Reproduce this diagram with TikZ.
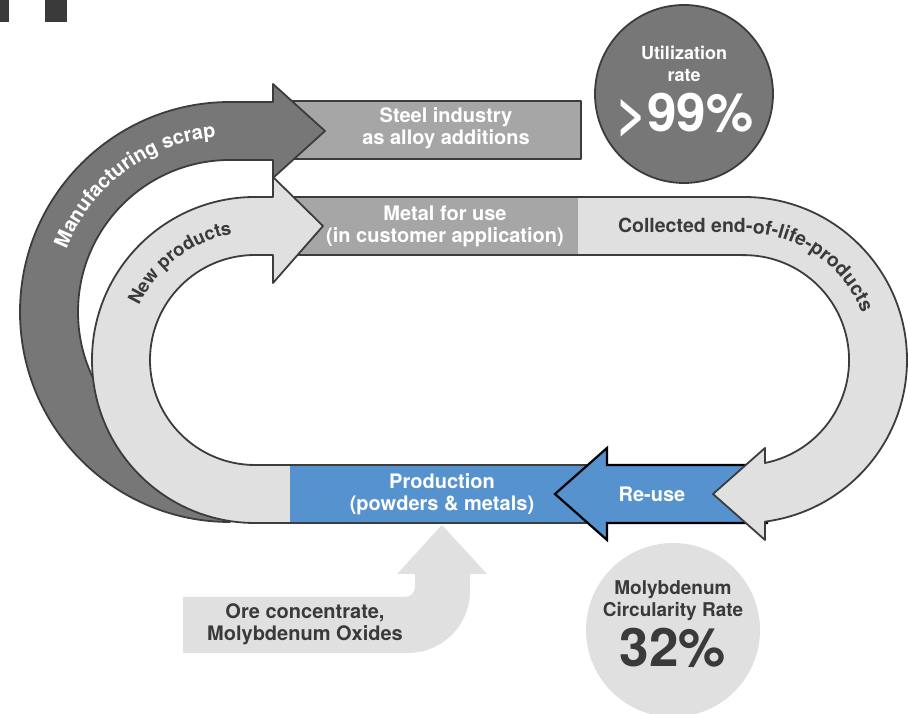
\documentclass[tikz,border=0pt]{standalone}
\usepackage{fontspec}
\setmainfont{TeX Gyre Heros}
\usetikzlibrary{decorations.text}

\definecolor{edge}{HTML}{3C3C3C}
\definecolor{ink}{HTML}{3A3A3A}
\definecolor{scrapgray}{HTML}{777777}
\definecolor{boxgray}{HTML}{A6A6A6}
\definecolor{loopgray}{HTML}{E0E0E0}
\definecolor{moblue}{HTML}{5592CE}

\newcommand{\bandfont}{\bfseries\fontsize{19.5}{20}\selectfont}
\newcommand{\scrapfont}{\bfseries\fontsize{20}{20}\selectfont}
\newcommand{\newprodfont}{\bfseries\fontsize{18.5}{20}\selectfont}

\tikzset{
  outline/.style={draw=edge, line width=1.8pt, line join=round},
  boxlbl/.style={font=\bfseries\fontsize{20}{22}\selectfont, align=center, text=white, inner sep=0pt},
  inklbl/.style={font=\bfseries\fontsize{20}{22}\selectfont, align=center, text=ink, inner sep=0pt},
}

\begin{document}
\begin{tikzpicture}[x=1pt,y=1pt]
        \useasboundingbox (0,0) rectangle (908,714);

        % Corner marks
        \fill[ink] (0,692) rectangle (9,714);
        \fill[ink] (45,692) rectangle (67,714);

        % Steel industry box
        \draw[outline, fill=boxgray] (280,555) rectangle (581,613);

        % Manufacturing scrap
        \draw[outline, fill=scrapgray] (230,192) arc[start angle=270, end angle=90, radius=210]
          -- (273,612) -- (273,630) -- (325,583) -- (273,536) -- (273,554) -- (230,554)
          arc[start angle=90, end angle=270, radius=152] -- cycle;

        % Metal for use
        \fill[boxgray] (285,459) rectangle (578,517);
        \draw[outline] (285,517) -- (578,517) (285,459) -- (578,459);

        % New products
        \draw[outline, fill=loopgray] (296,191) -- (255,191) arc[start angle=270, end angle=90, radius=163]
          -- (273,517) -- (273,537) -- (323,488) -- (273,431) -- (273,459) -- (255,459)
          arc[start angle=90, end angle=270, radius=105] -- (296,249);

        % Production
        \fill[moblue] (290,191) rectangle (612,249);
        \draw[outline] (290,249) -- (612,249) (285,191) -- (612,191);

        % Re-use
        \draw[fill=moblue, draw=black, line width=2.2pt, line join=miter]
          (768,249) -- (607,249) -- (607,266) -- (555,220) -- (607,174) -- (607,191) -- (768,191);

        % Collected end-of-life-products
        \draw[outline, fill=loopgray] (578,517) -- (744,517) arc[start angle=90, end angle=-82.6, radius=163]
          -- (765,174) -- (713,220) -- (765,266) -- (765,251)
          arc[start angle=-78.5, end angle=90, radius=105] -- (578,459);

        % Ore input
        \fill[loopgray] (183,61) -- (408,61) arc[start angle=270, end angle=360, radius=62]
          -- (470,140) -- (487,140) -- (442,189) -- (397,140) -- (415,140) -- (415,127)
          arc[start angle=0, end angle=-90, radius=10] -- (183,117) -- cycle;

        % Rate circles
        \node[circle, draw=edge, line width=1.8pt, fill=scrapgray, minimum size=178pt, inner sep=0pt] (util) at (684,620) {};
        \node[circle, fill=loopgray, minimum size=174pt, inner sep=0pt] (mcr) at (673,84) {};

        % Labels
        \node[boxlbl] (steel) at (446,586) {Steel industry\\as alloy additions};
        \node[boxlbl] (metal) at (445,488) {Metal for use\\(in customer application)};
        \node[boxlbl] (prod) at (442,220) {Production\\(powders \& metals)};
        \node[boxlbl] (reuse) at (652,220) {Re-use};
        \node[boxlbl, font=\bfseries\fontsize{18}{22}\selectfont] (utiltxt) at (684,650) {Utilization\\rate};
        \node[boxlbl, font=\bfseries\fontsize{53}{53}\selectfont] (utilval) at (685,599) {>99\%};
        \node[inklbl, font=\bfseries\fontsize{19}{22}\selectfont] (mcrtxt) at (673,113) {Molybdenum\\Circularity Rate};
        \node[inklbl, font=\bfseries\fontsize{53}{53}\selectfont] (mcrval) at (673,66) {32\%};
        \node[inklbl] (ore) at (305,90) {Ore concentrate,\\Molybdenum Oxides};

        % Curved labels
        \path[decorate, decoration={text along path, text color=white, text={|\scrapfont|Manufacturing scrap}}]
          (230,402) ++(159:175) arc[start angle=159, end angle=90, radius=175] -- ++(80,0);
        \path[decorate, decoration={text along path, text color=ink, text={|\newprodfont|New products}}]
          (255,354) ++(155:128) arc[start angle=155, end angle=90, radius=128] -- ++(60,0);
        \path[decorate, decoration={text along path, text color=ink, text={|\bandfont|Collected end-of-life-products}}]
          (618,481) -- (744,481) arc[start angle=90, end angle=-40, radius=127];
\end{tikzpicture}
\end{document}
